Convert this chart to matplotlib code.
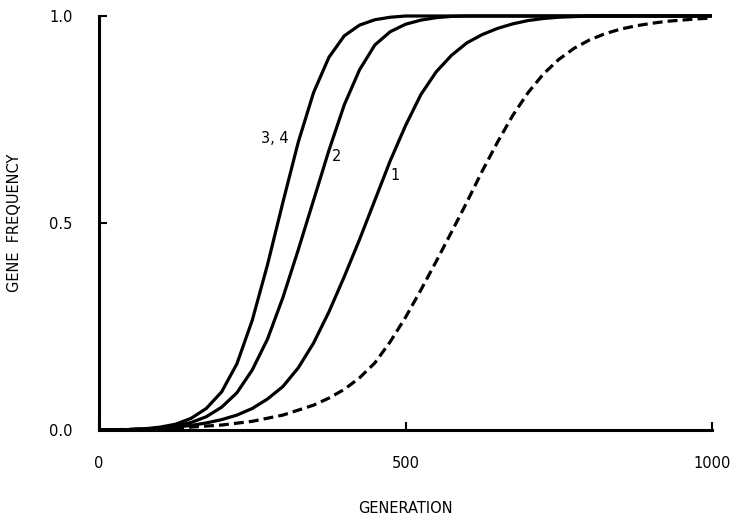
import matplotlib
matplotlib.use("Agg")
import matplotlib.pyplot as plt

# generation vs gene frequency
gen_34 = [0, 25, 50, 75, 100, 125, 150, 175, 200, 225, 250, 275, 300, 325, 350, 375, 400, 425, 450, 475, 500, 1000]
freq_34 = [0, 0.0005, 0.001, 0.003, 0.007, 0.014, 0.028, 0.052, 0.092, 0.16, 0.265, 0.40, 0.55, 0.695, 0.815,
           0.90, 0.952, 0.978, 0.991, 0.997, 1.0, 1.0]

gen_2 = [0, 50, 75, 100, 125, 150, 175, 200, 225, 250, 275, 300, 325, 350, 375, 400, 425, 450, 475, 500, 525,
         550, 575, 600, 1000]
freq_2 = [0, 0.001, 0.002, 0.005, 0.01, 0.018, 0.032, 0.055, 0.09, 0.145, 0.22, 0.32, 0.435, 0.555, 0.675, 0.785,
          0.87, 0.93, 0.962, 0.98, 0.99, 0.996, 0.999, 1.0, 1.0]

gen_1 = [0, 50, 100, 125, 150, 175, 200, 225, 250, 275, 300, 325, 350, 375, 400, 425, 450, 475, 500, 525, 550,
         575, 600, 625, 650, 675, 700, 725, 750, 800, 1000]
freq_1 = [0, 0.001, 0.004, 0.007, 0.011, 0.017, 0.025, 0.036, 0.052, 0.075, 0.105, 0.15, 0.21, 0.285, 0.37,
          0.46, 0.555, 0.65, 0.735, 0.81, 0.865, 0.905, 0.935, 0.955, 0.97, 0.981, 0.989, 0.994, 0.997, 1.0, 1.0]

gen_dash = [0, 100, 150, 200, 250, 300, 350, 375, 400, 425, 450, 475, 500, 525, 550, 575, 600, 625, 650, 675,
            700, 725, 750, 775, 800, 825, 850, 875, 900, 925, 950, 975, 1000]
freq_dash = [0, 0.003, 0.007, 0.012, 0.021, 0.036, 0.06, 0.077, 0.098, 0.126, 0.162, 0.213, 0.272, 0.338, 0.407,
             0.478, 0.55, 0.625, 0.695, 0.76, 0.815, 0.86, 0.895, 0.922, 0.942, 0.957, 0.968, 0.976, 0.982,
             0.987, 0.99, 0.993, 0.995]

curve_labels = ["3, 4", "2", "1"]
label_pos = [(287, 0.704), (387, 0.66), (483, 0.614)]

xticks = [0, 500, 1000]
yticks = [0.0, 0.5, 1.0]

plt.rcParams['font.family'] = ['DejaVu Sans']

fig = plt.figure(figsize=(7.31, 5.16), dpi=100)
ax = fig.add_axes([99 / 731, 1 - 430 / 516, 613 / 731, 414 / 516])

lw = 2.3
for g, f in [(gen_34, freq_34), (gen_2, freq_2), (gen_1, freq_1)]:
    ax.plot(g, f, color='black', lw=lw, solid_capstyle='butt', solid_joinstyle='round', clip_on=False)
ax.plot(gen_dash, freq_dash, color='black', lw=lw, ls=(0, (3.1, 1.6)), clip_on=False)

for txt, (x, y) in zip(curve_labels, label_pos):
    ax.text(x, y, txt, fontsize=10.5, ha='center', va='center')

ax.set_xlim(0, 1000)
ax.set_ylim(0, 1)
ax.set_xticks(xticks)
ax.set_xticklabels([str(t) for t in xticks])
ax.set_yticks(yticks)
ax.set_yticklabels(["%.1f" % t for t in yticks])

for side in ['top', 'right']:
    ax.spines[side].set_visible(False)
for side in ['left', 'bottom']:
    ax.spines[side].set_linewidth(2.2)

ax.tick_params(axis='both', direction='in', length=6, width=1.5, labelsize=10.5)
ax.tick_params(axis='y', pad=19)
ax.tick_params(axis='x', pad=19)

ax.set_xlabel("GENERATION", fontsize=10.5)
ax.xaxis.set_label_coords(0.5, -0.172)
ax.set_ylabel("GENE  FREQUENCY", fontsize=10.5)
ax.yaxis.set_label_coords(-0.125, 0.5)

fig.savefig("out.png", dpi=100)
